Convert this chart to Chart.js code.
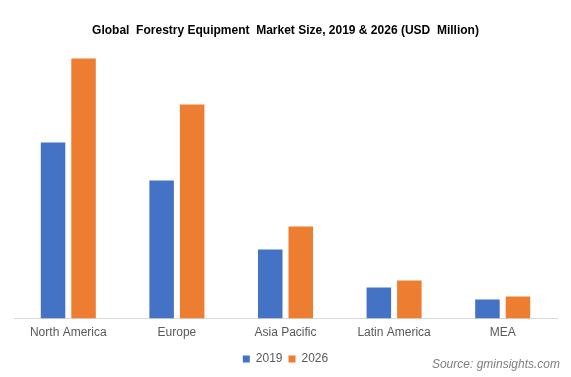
<!DOCTYPE html>
<html>
<head>
<meta charset="utf-8">
<script src="https://cdn.jsdelivr.net/npm/chart.js@4"></script>
<style>
  html, body { margin: 0; padding: 0; background: #fff; }
  #wrap { position: relative; width: 571px; height: 377px; }
  #source {
    position: absolute; right: 11px; top: 357px;
    font: italic 12px "Liberation Sans", Arial, sans-serif; color: #7f7f7f;
  }
</style>
</head>
<body>
<div id="wrap">
  <canvas id="chart" width="571" height="377"></canvas>
  <div id="source">Source: gminsights.com</div>
</div>
<script>
// regions and bar heights (relative units, no axis shown)
const regions = ["North America", "Europe", "Asia Pacific", "Latin America", "MEA"];
const values2019 = [176, 138, 69, 31, 19];
const values2026 = [260, 214, 92, 38, 22];
const seriesNames = ["2019", "2026"];

const ctx = document.getElementById("chart").getContext("2d");

new Chart(ctx, {
  type: "bar",
  data: {
    labels: regions,
    datasets: [{
      label: seriesNames[0],
      data: values2019,
      backgroundColor: "#4472C4",
      categoryPercentage: 0.562,
      barPercentage: 0.803,
    }, {
      label: seriesNames[1],
      data: values2026,
      backgroundColor: "#ED7D31",
      categoryPercentage: 0.562,
      barPercentage: 0.803,
    }],
  },
  options: {
    responsive: false,
    animation: false,
    layout: {
      padding: { left: 14, right: 14, bottom: 2 },
    },
    plugins: {
      title: {
        display: true,
        text: "Global  Forestry Equipment  Market Size, 2019 & 2026 (USD  Million)",
        color: "#000",
        font: { family: "'Liberation Sans Narrow', 'Arial Narrow', Arial, sans-serif", size: 12, weight: "bold" },
        padding: { top: 23, bottom: 11 },
      },
      legend: {
        position: "bottom",
        labels: {
          boxWidth: 7,
          boxHeight: 7,
          color: "#595959",
          font: { family: "'Liberation Sans', Arial, sans-serif", size: 12 },
          padding: 6,
        },
      },
      tooltip: { enabled: false },
    },
    scales: {
      x: {
        grid: { display: false, drawTicks: false },
        border: { color: "#d9d9d9" },
        ticks: {
          color: "#595959",
          padding: 7,
          font: { family: "'Liberation Sans', Arial, sans-serif", size: 12 },
        },
      },
      y: {
        display: false,
        min: 0,
        max: 270,
      },
    },
  },
});
</script>
</body>
</html>
